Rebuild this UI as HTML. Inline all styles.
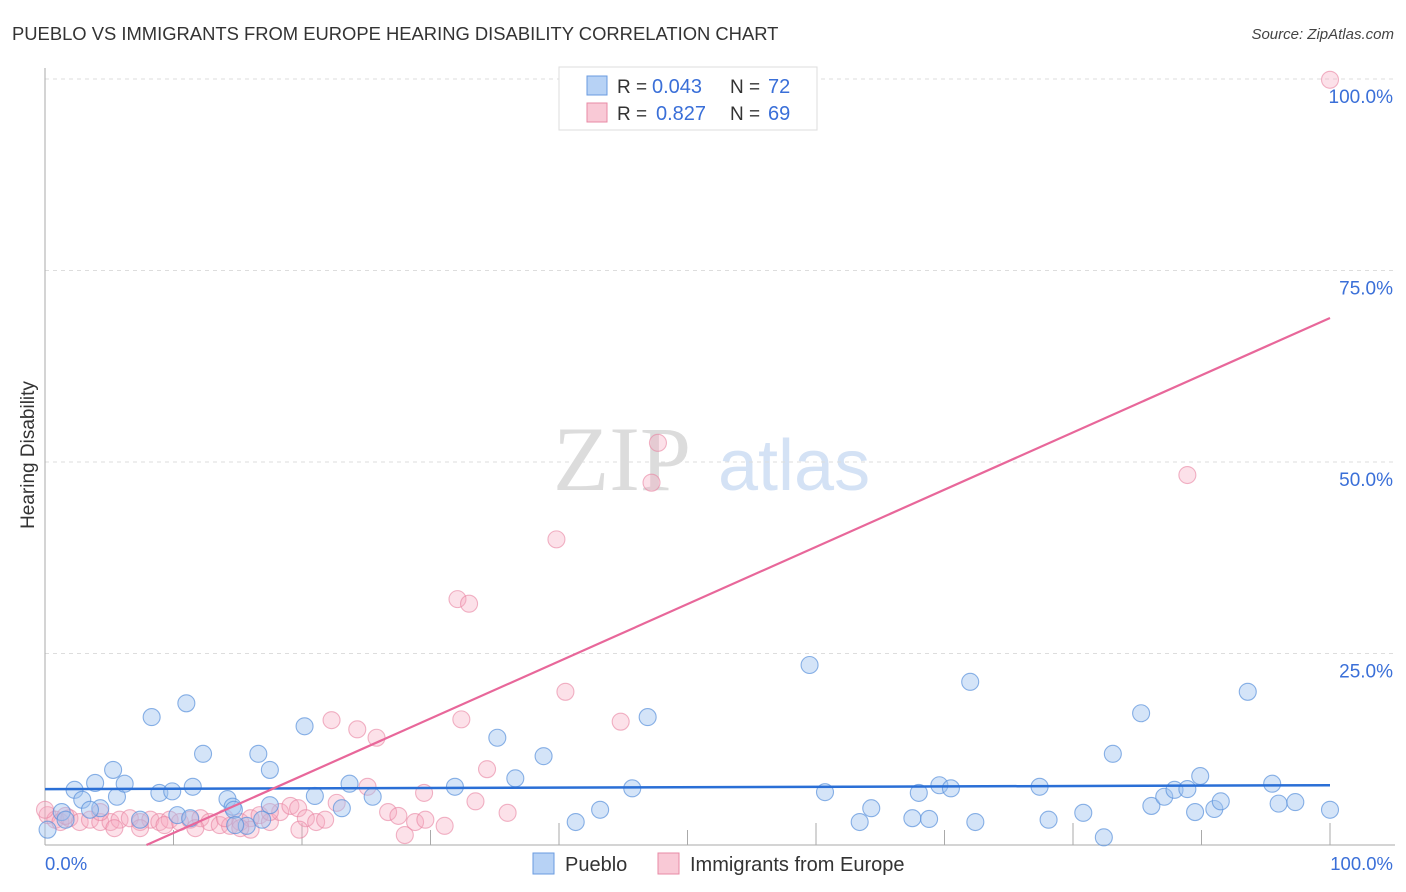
<!DOCTYPE html>
<html><head><meta charset="utf-8"><style>
body{margin:0;background:#fff;font-family:"Liberation Sans",sans-serif;}
svg{display:block}
</style></head><body>
<svg id="chart" width="1406" height="892" xmlns="http://www.w3.org/2000/svg">
<text x="12" y="40" font-size="18.4" fill="#333" font-family="Liberation Sans, sans-serif">PUEBLO VS IMMIGRANTS FROM EUROPE HEARING DISABILITY CORRELATION CHART</text>
<text x="1394" y="39" font-size="15" fill="#444" font-style="italic" text-anchor="end">Source: ZipAtlas.com</text>
<g>
<text x="553" y="490" font-size="92" font-family="Liberation Serif, serif" fill="#dcdcdc">ZIP</text>
<text x="718" y="490" font-size="72" fill="#d4e2f5">atlas</text>
</g>
<g id="grid"></g>
<g id="axes"></g>
<g id="marks"></g>
<g id="lines"></g>
<g>
<rect x="559" y="67" width="258" height="63" fill="#fff" stroke="#ddd"/>
<rect x="587" y="76" width="20" height="19" fill="#b7d2f5" stroke="#6a9be0"/>
<text x="617" y="93" font-size="19" fill="#333">R = </text><text x="652" y="93" font-size="20" fill="#3a6fd8">0.043</text>
<text x="730" y="93" font-size="19" fill="#333">N = </text><text x="768" y="93" font-size="20" fill="#3a6fd8">72</text>
<rect x="587" y="103" width="20" height="19" fill="#f9c9d6" stroke="#e88aa5"/>
<text x="617" y="120" font-size="19" fill="#333">R = </text><text x="656" y="120" font-size="20" fill="#3a6fd8">0.827</text>
<text x="730" y="120" font-size="19" fill="#333">N = </text><text x="768" y="120" font-size="20" fill="#3a6fd8">69</text>
</g>
<g>
<rect x="533" y="853" width="21" height="21" fill="#b7d2f5" stroke="#6a9be0"/>
<text x="565" y="871" font-size="20" fill="#333">Pueblo</text>
<rect x="658" y="853" width="21" height="21" fill="#f9c9d6" stroke="#e88aa5"/>
<text x="690" y="871" font-size="20" fill="#333">Immigrants from Europe</text>
</g>
<text transform="translate(34,455) rotate(-90)" font-size="19" fill="#333" text-anchor="middle">Hearing Disability</text>
<text x="45" y="870" font-size="18.5" fill="#3a6fd8">0.0%</text>
<text x="1393" y="870" font-size="18.5" fill="#3a6fd8" text-anchor="end">100.0%</text>
</svg>
<script>
const yTicks=[25,50,75,100];
const yTickLabels=["25.0%","50.0%","75.0%","100.0%"];
const xTicks=[10,20,30,40,50,60,70,80,90,100];
const puebloX=[0.2,1.3,2.3,2.9,3.9,4.3,5.3,5.6,6.2,8.3,8.9,9.9,10.3,11.0,11.5,12.3,14.2,14.6,14.7,16.6,17.5,17.5,15.7,20.2,21.0,23.1,23.7,25.5,31.9,35.2,36.6,38.8,41.3,43.2,45.7,46.9,59.5,60.7,63.4,64.3,67.5,68.0,68.8,69.6,70.5,72.4,72.0,77.4,78.1,80.8,82.4,83.1,85.3,86.1,87.1,87.9,88.9,89.5,89.9,91.0,91.5,93.6,95.5,96.0,97.3,100,1.6,3.5,7.4,11.3,14.8,16.9];
const puebloY=[2.0,4.3,7.2,5.9,8.1,4.8,9.8,6.3,8.0,16.7,6.8,7.0,3.9,18.5,7.6,11.9,6.0,5.0,4.6,11.9,9.8,5.2,2.5,15.5,6.4,4.8,8.0,6.3,7.6,14.0,8.7,11.6,3.0,4.6,7.4,16.7,23.5,6.9,3.0,4.8,3.5,6.8,3.4,7.8,7.4,3.0,21.3,7.6,3.3,4.2,1.0,11.9,17.2,5.1,6.3,7.2,7.3,4.3,9.0,4.7,5.7,20.0,8.0,5.4,5.6,4.6,3.3,4.6,3.3,3.5,2.6,3.3];
const europeX=[0.2,0.8,1.2,1.9,2.7,3.5,4.3,5.1,5.8,6.6,7.4,8.2,8.9,9.7,10.5,11.3,12.1,12.8,13.6,14.4,15.2,16.0,16.7,17.5,18.3,19.1,19.7,20.3,21.1,21.8,22.3,22.7,24.3,25.1,25.8,26.7,27.5,28.0,28.8,29.5,29.6,31.1,32.4,32.1,33.0,33.5,34.4,36.0,39.8,40.5,44.8,47.2,47.7,88.9,100,0.0,7.4,17.5,19.8,16.0,11.7,15.2,4.3,5.4,1.6,14.0,9.3];
const europeY=[3.9,3.3,3.0,3.5,3.0,3.3,3.0,3.0,3.3,3.5,3.0,3.3,3.0,3.3,3.0,3.3,3.5,3.0,2.6,2.5,3.0,3.5,3.9,3.0,4.3,5.1,4.8,3.5,3.0,3.3,16.3,5.5,15.1,7.6,14.0,4.3,3.8,1.3,3.0,6.8,3.3,2.5,16.4,32.1,31.5,5.7,9.9,4.2,39.9,20.0,16.1,47.3,52.5,48.3,99.9,4.6,2.2,4.3,2.0,2.0,2.2,2.2,4.3,2.2,3.8,3.5,2.6];
const puebloTrend=[7.3,7.8];
const europeTrend=[-5.9,68.8];

const NS="http://www.w3.org/2000/svg";
const X0=45,X1=1330,Y0=845,Y100=79;
const sx=v=>X0+(X1-X0)*v/100;
const sy=v=>Y0-(Y0-Y100)*v/100;
function mk(tag,attrs,parent){const e=document.createElementNS(NS,tag);for(const k in attrs)e.setAttribute(k,attrs[k]);parent.appendChild(e);return e;}
const grid=document.getElementById('grid'),axes=document.getElementById('axes'),marks=document.getElementById('marks'),lines=document.getElementById('lines');
yTicks.forEach((t,i)=>{
  const l=mk('line',{x1:X0,x2:1395,y1:sy(t),y2:sy(t),stroke:'#ddd','stroke-dasharray':'4,4'},grid);
  
  
  const tx=mk('text',{x:1393,y:sy(t)+24,'font-size':19,fill:'#3a6fd8','text-anchor':'end'},grid);
  tx.textContent=yTickLabels[i];
  
  
});
const ya=mk('line',{x1:X0,x2:X0,y1:68,y2:Y0,stroke:'#aaa'},axes);


const xa=mk('line',{x1:X0,x2:1395,y1:Y0,y2:Y0,stroke:'#aaa'},axes);


xTicks.forEach(t=>{
  const k=mk('line',{x1:sx(t),x2:sx(t),y1:Y0,y2:Y0-(t%20===0?22:15),stroke:'#aaa'},axes);
  
  
});
function pts(xs,ys,fill,stroke,name){
  xs.forEach((x,i)=>{
    const c=mk('circle',{cx:sx(x),cy:sy(ys[i]),r:8.5,fill:fill,stroke:stroke,'stroke-width':1.1},marks);
    
    
  });
}
pts(europeX,europeY,'rgba(246,170,192,0.35)','rgba(232,130,160,0.6)','europe-point');
pts(puebloX,puebloY,'rgba(160,196,240,0.45)','rgba(90,145,220,0.7)','pueblo-point');
const bl=mk('line',{x1:sx(0),y1:sy(puebloTrend[0]),x2:sx(100),y2:sy(puebloTrend[1]),stroke:'#2a6fd6','stroke-width':2.5},lines);


const x0e=-europeTrend[0]/((europeTrend[1]-europeTrend[0])/100);
const pl=mk('line',{x1:sx(x0e),y1:sy(0),x2:sx(100),y2:sy(europeTrend[1]),stroke:'#e8679a','stroke-width':2.2},lines);


</script>
</body></html>
